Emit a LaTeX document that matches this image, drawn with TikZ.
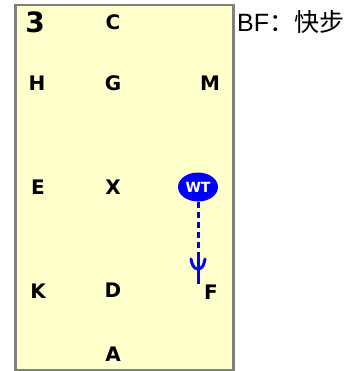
\documentclass[tikz,border=0pt]{standalone}
\usepackage{fontspec}
\newfontfamily\arenafont{DejaVu Sans}[BoldFont={DejaVu Sans Bold}]
\newfontfamily\labfont{Liberation Sans}
\newfontfamily\cjkfont{Noto Sans CJK SC}
\definecolor{arenafill}{HTML}{FFFFCC}
\definecolor{arenaline}{HTML}{808080}
\definecolor{wtblue}{HTML}{0000FF}
\tikzset{
  letter/.style={inner sep=0pt, font=\arenafont\bfseries\fontsize{20}{20}\selectfont},
  bignum/.style={inner sep=0pt, font=\arenafont\bfseries\fontsize{28}{28}\selectfont},
  rider/.style={ellipse, fill=wtblue, inner sep=0pt, minimum width=40pt, minimum height=29pt,
     text=white, font=\arenafont\bfseries\fontsize{14}{14}\selectfont},
  path1/.style={draw=wtblue, line width=3pt, dash pattern=on 6.5pt off 3.5pt},
  tipline/.style={draw=wtblue, line width=3pt}
}
\usetikzlibrary{shapes.geometric}
\begin{document}
\begin{tikzpicture}[x=1pt,y=-1pt]
\useasboundingbox (0,0) rectangle (362,371);
\node[draw=arenaline, line width=2.5pt, fill=arenafill, minimum width=218pt, minimum height=365pt, inner sep=0pt, anchor=north west] (arena) at (14,4) {};
\node[bignum] (n3) at (35,22) {3};
\node[letter] (C) at (113,22) {C};
\node[letter] (H) at (37,83) {H};
\node[letter] (G) at (113,83) {G};
\node[letter] (M) at (210,83) {M};
\node[letter] (E) at (38,187) {E};
\node[letter] (X) at (113,187) {X};
\node[rider] (WT) at (198,187) {WT};
\node[letter] (K) at (38,291) {K};
\node[letter] (D) at (113,290) {D};
\node[letter] (F) at (211,292) {F};
\node[letter] (A) at (113,354) {A};
\node[anchor=west, inner sep=0pt, font=\fontsize{25}{25}\selectfont] (title) at (237,22) {\labfont BF\cjkfont ：快步};
\coordinate (dashend) at (198,258);
\coordinate (stemtop) at (198,255);
\coordinate (tip) at (198,284);
\coordinate (vmid) at (198,269);
\coordinate (varmL) at (191,259);
\coordinate (varmR) at (205,259);
\path[path1] (WT.south) -- (dashend);
\path[tipline] (stemtop) -- (tip);
\path[tipline, line join=round, line cap=round] (varmL) to[out=-80,in=180] (vmid) to[out=0,in=-100] (varmR);
\end{tikzpicture}
\end{document}
